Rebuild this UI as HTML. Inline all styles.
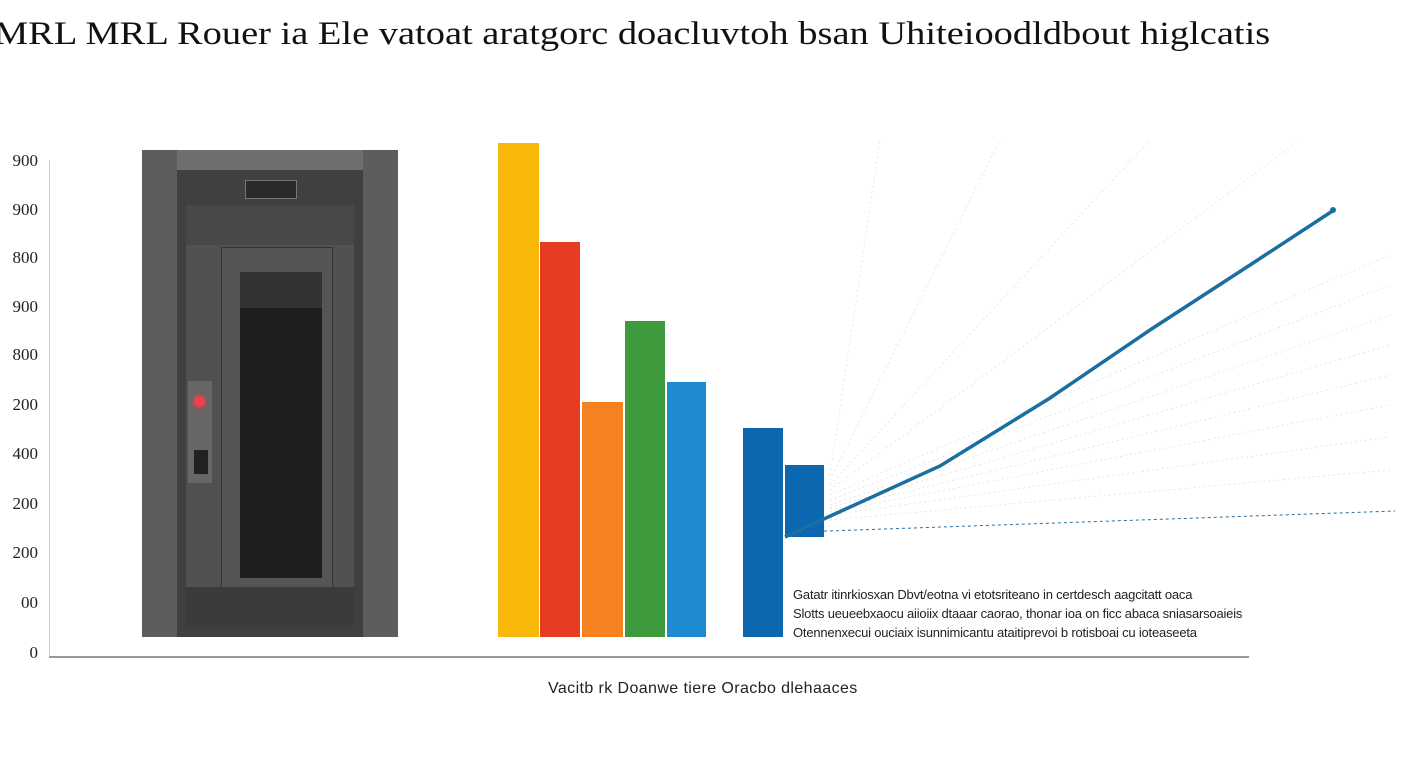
<!DOCTYPE html>
<html><head><meta charset="utf-8"><style>
body{margin:0;width:1408px;height:768px;background:#fff;position:relative;overflow:hidden;font-family:"Liberation Sans",sans-serif}
.a{position:absolute}
.yl{position:absolute;left:2px;width:36px;text-align:right;font-family:"Liberation Serif",serif;font-size:17px;color:#222}
.t{position:absolute;font-size:13px;color:#222;left:793px;white-space:nowrap;letter-spacing:-0.2px}
</style></head><body>
<div class="a" style="left:-6px;top:16px;font-family:'Liberation Serif',serif;font-size:33px;color:#111;white-space:nowrap;transform-origin:0 0;transform:scaleX(1.165)">MRL MRL Rouer ia Ele vatoat aratgorc doacluvtoh bsan Uhiteioodldbout higlcatis</div>
<div class="yl" style="top:151px">900</div>
<div class="yl" style="top:200px">900</div>
<div class="yl" style="top:248px">800</div>
<div class="yl" style="top:297px">900</div>
<div class="yl" style="top:345px">800</div>
<div class="yl" style="top:395px">200</div>
<div class="yl" style="top:444px">400</div>
<div class="yl" style="top:494px">200</div>
<div class="yl" style="top:543px">200</div>
<div class="yl" style="top:593px">00</div>
<div class="yl" style="top:643px;width:38px;left:0">0</div>
<div class="a" style="left:49px;top:160px;width:1px;height:497px;background:#ccc"></div>
<div class="a" style="left:49px;top:656px;width:1200px;height:2px;background:#999"></div>
<div class="a" style="left:142px;top:150px;width:256px;height:487px;background:#5c5d5f"></div>
<div class="a" style="left:177px;top:150px;width:186px;height:20px;background:#6e6f71"></div>
<div class="a" style="left:177px;top:170px;width:186px;height:467px;background:#3f4042"></div>
<div class="a" style="left:245px;top:180px;width:50px;height:17px;background:#2a2a2a;border:1px solid #777"></div>
<div class="a" style="left:186px;top:205px;width:168px;height:422px;background:#505153"></div>
<div class="a" style="left:186px;top:205px;width:168px;height:40px;background:#47484a"></div>
<div class="a" style="left:221px;top:247px;width:110px;height:340px;background:#545557;border:1px solid #333"></div>
<div class="a" style="left:240px;top:272px;width:82px;height:306px;background:#1e1e1f"></div>
<div class="a" style="left:240px;top:272px;width:82px;height:36px;background:#333"></div>
<div class="a" style="left:188px;top:381px;width:24px;height:102px;background:#666"></div>
<div class="a" style="left:194px;top:396px;width:11px;height:11px;border-radius:50%;background:#f04050;box-shadow:0 0 6px #f04050"></div>
<div class="a" style="left:194px;top:450px;width:14px;height:24px;background:#222"></div>
<div class="a" style="left:186px;top:587px;width:168px;height:40px;background:#3a3b3d"></div>
<div class="a" style="left:498px;top:143px;width:41px;height:494px;background:#f8b80a"></div>
<div class="a" style="left:540px;top:242px;width:40px;height:395px;background:#e83c22"></div>
<div class="a" style="left:582px;top:402px;width:41px;height:235px;background:#f58220"></div>
<div class="a" style="left:625px;top:321px;width:40px;height:316px;background:#3d9b3d"></div>
<div class="a" style="left:667px;top:382px;width:39px;height:255px;background:#1e8ad0"></div>
<div class="a" style="left:743px;top:428px;width:40px;height:209px;background:#0a67b0"></div>
<div class="a" style="left:785px;top:465px;width:39px;height:72px;background:#0a67b0"></div>
<svg class="a" style="left:0;top:0" width="1408" height="768">
<g stroke="#d6dee4" stroke-width="0.7" stroke-dasharray="2 3" fill="none">
<line x1="830" y1="520" x2="1390" y2="470"/>
<line x1="830" y1="515" x2="1390" y2="437"/>
<line x1="830" y1="512" x2="1390" y2="405"/>
<line x1="830" y1="510" x2="1390" y2="375"/>
<line x1="830" y1="508" x2="1390" y2="345"/>
<line x1="830" y1="505" x2="1390" y2="315"/>
<line x1="830" y1="500" x2="1390" y2="285"/>
<line x1="830" y1="495" x2="1390" y2="255"/>
<line x1="830" y1="490" x2="1300" y2="140"/>
<line x1="830" y1="485" x2="1150" y2="140"/>
<line x1="830" y1="480" x2="1000" y2="140"/>
<line x1="830" y1="475" x2="880" y2="140"/>
</g>
<line x1="800" y1="532" x2="1395" y2="511" stroke="#2a6fa0" stroke-width="1" stroke-dasharray="3 3"/>
<polyline points="785,537 826,518 940,466 1050,398 1150,330 1250,265 1334,210" fill="none" stroke="#1a6fa0" stroke-width="3.5"/>
<circle cx="1333" cy="210" r="3" fill="#1a6fa0"/>
</svg>
<div class="t" style="top:587px">Gatatr itinrkiosxan Dbvt/eotna vi etotsriteano in certdesch aagcitatt oaca</div>
<div class="t" style="top:606px">Slotts ueueebxaocu aiioiix dtaaar caorao, thonar ioa on ficc abaca sniasarsoaieis</div>
<div class="t" style="top:625px">Otennenxecui ouciaix isunnimicantu ataitiprevoi b rotisboai cu ioteaseeta</div>
<div class="a" style="left:548px;top:680px;font-size:16px;color:#222;white-space:nowrap;letter-spacing:0.4px">Vacitb rk Doanwe tiere Oracbo dlehaaces</div>
</body></html>
